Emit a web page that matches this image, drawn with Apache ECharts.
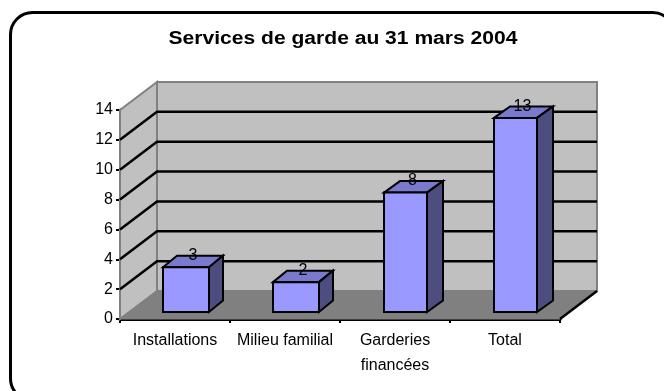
<!DOCTYPE html>
<html><head><meta charset="utf-8">
<style>html,body{margin:0;padding:0;background:#fff}#c{width:664px;height:391px}</style>
<script src="https://cdn.jsdelivr.net/npm/echarts@6/dist/echarts.min.js"></script>
</head><body><div id="c"></div>
<script>
const titleText = 'Services de garde au 31 mars 2004';
const categories = ['Installations', 'Milieu familial', 'Garderies\nfinancées', 'Total'];
const values = [3, 2, 8, 13];
const yTicks = [0, 2, 4, 6, 8, 10, 12, 14];

const FONT = '"Liberation Sans", Arial, sans-serif';
const DX = 37, DY = -28;              // wall depth
const BAR_W = [46, 46, 43, 43], BAR_D = [14, 14, 16, 16], BAR_DY = -11.5;
const BAR_SHIFT = [11, 11, 10.5, 10.5], BAR_LIFT = -7;

const chart = echarts.init(document.getElementById('c'), null, {renderer: 'canvas'});

function wallItem(params, api) {
  const grid = params.coordSys;
  const x0 = grid.x, x1 = grid.x + grid.width, y0 = grid.y + grid.height, y1 = grid.y;
  const kids = [
    {type: 'polygon', shape: {points: [[x0, y0], [x0 + DX, y0 + DY], [x0 + DX, y1 + DY], [x0, y1]]},
      style: {fill: '#c0c0c0', stroke: '#808080', lineWidth: 2}},
    {type: 'rect', shape: {x: x0 + DX, y: y1 + DY, width: x1 - x0, height: y0 - y1},
      style: {fill: '#c0c0c0', stroke: '#808080', lineWidth: 2}},
    {type: 'polygon', shape: {points: [[x0, y0], [x0 + DX, y0 + DY], [x1 + DX, y0 + DY], [x1, y0]]},
      style: {fill: '#808080', stroke: '#808080', lineWidth: 1}},
    {type: 'line', shape: {x1: x1, y1: y0, x2: x1 + DX, y2: y0 + DY},
      style: {stroke: '#000', lineWidth: 2.5}}
  ];
  yTicks.forEach(t => {
    if (t === 0 || t === 14) return;
    const y = api.coord([0, t])[1];
    kids.push({type: 'polyline', shape: {points: [[x0, y], [x0 + DX, y + DY], [x1 + DX, y + DY]]},
      style: {fill: 'none', stroke: '#000', lineWidth: 2.5}});
  });
  return {type: 'group', children: kids};
}

function barItem(params, api) {
  const i = params.dataIndex;
  const c = api.coord([api.value(0), api.value(1)]);
  const b = api.coord([api.value(0), 0]);
  const w = BAR_W[i], d = BAR_D[i];
  const l = c[0] + BAR_SHIFT[i] - w / 2, r = l + w;
  const top = c[1] + BAR_LIFT, bot = b[1] + BAR_LIFT;
  const st = f => ({fill: f, stroke: '#000', lineWidth: 2, lineJoin: 'miter'});
  return {type: 'group', children: [
    {type: 'polygon', shape: {points: [[l, top], [l + d, top + BAR_DY], [r + d, top + BAR_DY], [r, top]]}, style: st('#7a7acc')},
    {type: 'polygon', shape: {points: [[r, top], [r + d, top + BAR_DY], [r + d, bot + BAR_DY], [r, bot]]}, style: st('#4d4d80')},
    {type: 'rect', shape: {x: l, y: top, width: w, height: bot - top}, style: st('#9999ff')},
    {type: 'text', style: {text: String(api.value(1)), x: l + w / 2 + 7, y: top + BAR_DY, align: 'center', verticalAlign: 'middle',
      font: '16px ' + FONT, fill: '#000'}}
  ]};
}

chart.setOption({
  animation: false,
  backgroundColor: '#fff',
  grid: {left: 120, right: 104, top: 110, bottom: 72, containLabel: false},
  xAxis: {type: 'category', data: categories, boundaryGap: true,
    axisLine: {lineStyle: {color: '#000', width: 3}},
    axisTick: {show: true, alignWithLabel: false, length: 4, lineStyle: {color: '#000', width: 2}},
    axisLabel: {fontFamily: FONT, fontSize: 16, color: '#000', margin: 9, lineHeight: 25, interval: 0}},
  yAxis: {type: 'value', min: 0, max: 14, interval: 2,
    splitLine: {show: false},
    axisLine: {show: true, lineStyle: {color: '#000', width: 3}},
    axisTick: {show: true, length: 4, lineStyle: {color: '#000', width: 2}},
    axisLabel: {fontFamily: FONT, fontSize: 16, color: '#000', margin: 7}},
  series: [
    {type: 'custom', z: 1, silent: true, renderItem: wallItem, data: [[0, 0]], clip: false},
    {type: 'custom', z: 3, renderItem: barItem, clip: false,
      data: values.map((v, i) => [i, v]), encode: {x: 0, y: 1}}
  ],
  graphic: [
    {type: 'rect', silent: true, z: 10,
      shape: {x: 10.5, y: 12.5, width: 664, height: 388, r: 22},
      style: {fill: 'none', stroke: '#000', lineWidth: 3}},
    {type: 'text', silent: true, z: 10, x: 343, y: 39, scaleX: 1.17, originX: 0, originY: 0,
      style: {text: titleText, align: 'center', verticalAlign: 'middle', fill: '#000',
        font: 'bold 18px ' + FONT}}
  ]
});
</script></body></html>
